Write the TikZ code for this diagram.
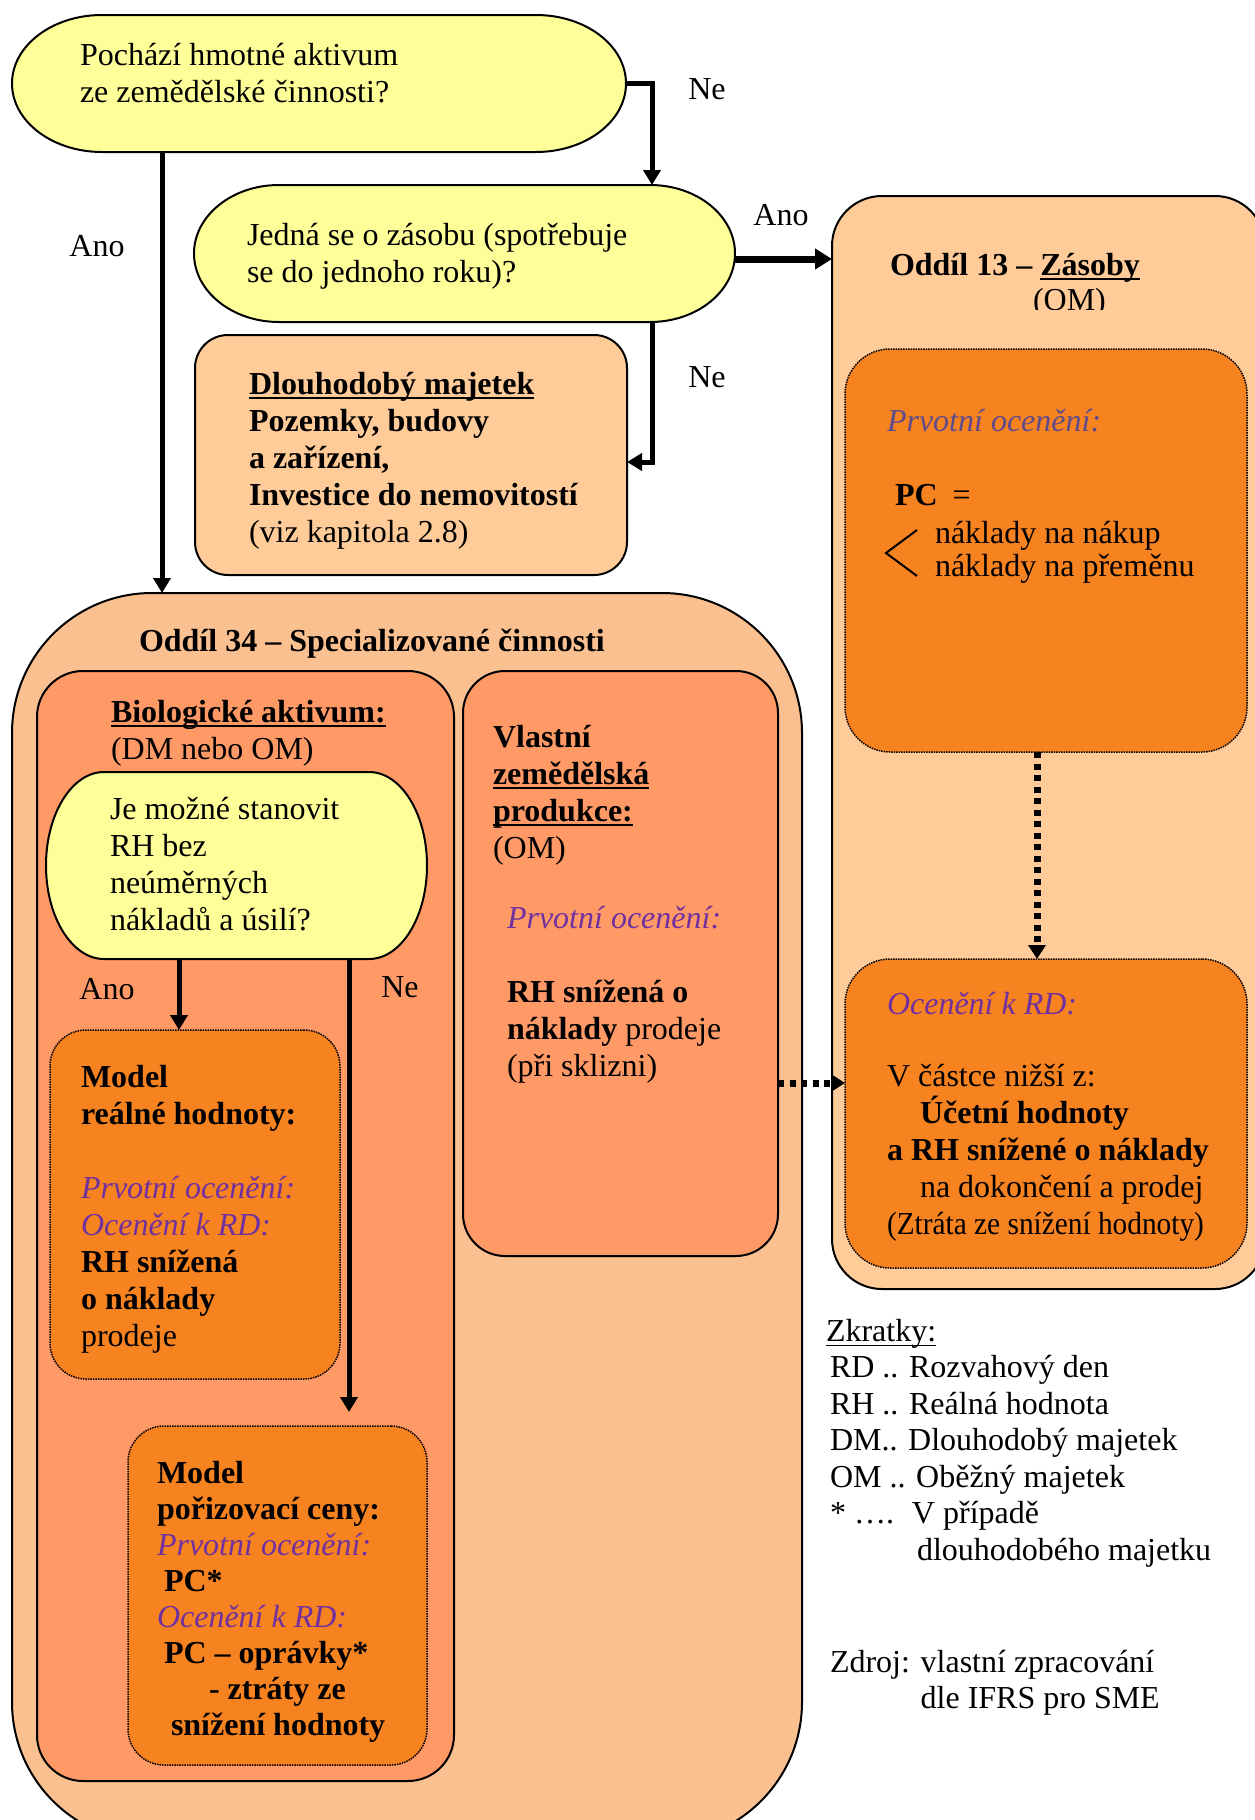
\documentclass[tikz,border=0pt]{standalone}
\usepackage{fontspec}
\setmainfont{Liberation Serif}
\usetikzlibrary{arrows.meta,calc}

\definecolor{cYellow}{HTML}{FFFF99}
\definecolor{cPeach}{HTML}{FFCC99}
\definecolor{cTan}{HTML}{FAC090}
\definecolor{cSalmon}{HTML}{FF9966}
\definecolor{cOrange}{HTML}{F68220}
\definecolor{cPurple}{HTML}{7030A0}
\definecolor{cGreyPurple}{HTML}{5F4B8B}

% underline drawn as a rule just below the baseline
\newcommand\uln[2][2.5pt]{\setbox0\hbox{#2}\rlap{\rule[-5pt]{\wd0}{#1}}\box0}
% fixed-height strut opening each text block
\newcommand\ls{\rule{0pt}{30pt}}
\newcommand\pur[1]{\textcolor{cPurple}{\itshape #1}}

% stadium outline around an (invisible) named node: name, end radius, fill
\newcommand\stadium[3]{%
  \path[draw=black, line width=2pt, fill=#3]
    let \p1=(#1.north east), \p2=(#1.south west), \n1={(\y1-\y2)/2} in
    (\x1-#2pt,\y1) arc[start angle=90,end angle=-90,x radius=#2pt,y radius=\n1]
    -- (\x2+#2pt,\y2) arc[start angle=270,end angle=90,x radius=#2pt,y radius=\n1]
    -- cycle;}

\tikzset{
  area/.style={inner sep=0pt, outer sep=0pt},
  frame/.style={area, draw=black, line width=2pt},
  dotbox/.style={area, draw=black, line width=1.5pt, densely dotted, fill=cOrange, rounded corners=#1},
  txt/.style={inner sep=0pt, outer sep=0pt, anchor=north west, align=left},
  lbl/.style={inner sep=0pt},
  arr/.style={line width=5pt, -{Triangle[length=15pt,width=17pt]}},
  bigarr/.style={line width=7pt, -{Triangle[length=17pt,width=20pt]}},
  dotarr/.style={line width=7pt, dash pattern=on 6pt off 5.5pt, -{Triangle[length=14pt,width=17pt]}},
}

\begin{document}
\begin{tikzpicture}[x=1pt,y=-1pt, every node/.style={font=\fontsize{32}{37}\selectfont}]
\clip (0,0) rectangle (1255,1820);

% ---- containers ----
\node[frame, fill=cTan, rounded corners=140pt, minimum width=790pt, minimum height=1249pt] (o34) at (407,1217.5) {};
\node[frame, fill=cSalmon, rounded corners=46pt, minimum width=417pt, minimum height=1110pt] (bio) at (245.5,1226) {};
\node[frame, fill=cSalmon, rounded corners=42pt, minimum width=315pt, minimum height=585pt] (vz) at (620.5,963.5) {};
\node[dotbox=36pt, minimum width=290pt, minimum height=349pt] (rh) at (195,1204.5) {};
\node[dotbox=36pt, minimum width=299pt, minimum height=339pt] (pc) at (277.5,1595.5) {};
\node[frame, fill=cPeach, rounded corners=33pt, minimum width=432pt, minimum height=240pt] (dm) at (411,455) {};
\node[frame, fill=cPeach, rounded corners=50pt, minimum width=433pt, minimum height=1093pt] (o13) at (1048.5,742.5) {};
\node[dotbox=45pt, minimum width=402pt, minimum height=403pt] (pi) at (1046,550.5) {};
\node[dotbox=45pt, minimum width=402pt, minimum height=309pt] (rd) at (1046,1113.5) {};

% ---- decisions ----
\node[area, minimum width=614pt, minimum height=137pt] (q1) at (319,83.5) {};
\stadium{q1}{90}{cYellow}
\node[area, minimum width=541pt, minimum height=137pt] (q2) at (464.5,253.5) {};
\stadium{q2}{85}{cYellow}
\node[area, minimum width=381pt, minimum height=187pt] (q3) at (236.5,865.5) {};
\stadium{q3}{58}{cYellow}

% ---- connectors ----
\draw[arr] (q1.east) -| ([xshift=187.5pt]q2.north);
\draw[arr] ([xshift=187.5pt]q2.south) |- ([yshift=-7pt]dm.east);
\draw[bigarr] ([yshift=-5.5pt]q2.east) -- ([yshift=-5.5pt]q2.east -| o13.west);
\draw[arr] ([xshift=-157pt]q1.south) -- ([xshift=-157pt]q1.south |- o34.north);
\draw[arr] ([xshift=-57.5pt]q3.south) -- ([xshift=-57.5pt]q3.south |- rh.north);
\draw[arr, shorten >=14pt] ([xshift=112.5pt]q3.south) -- ([xshift=112.5pt]q3.south |- pc.north);
\draw[dotarr] ([xshift=-9pt]pi.south) -- ([xshift=-9pt]rd.north);
\draw[dotarr] ([yshift=-119.5pt]vz.east) -- ([yshift=-119.5pt]vz.east -| rd.west);

% ---- connector labels ----
\node[lbl] (lNe1) at (707,89) {Ne};
\node[lbl] (lAno1) at (781,215) {Ano};
\node[lbl] (lAno2) at (97,246) {Ano};
\node[lbl] (lNe2) at (707,377) {Ne};
\node[lbl] (lAno3) at (107,989) {Ano};
\node[lbl] (lNe3) at (400,987) {Ne};

% ---- texts ----
\node[txt] (tq1) at (80,35) {\ls Pochází hmotné aktivum\\ze zemědělské činnosti?};
\node[txt] (tq2) at (247,215) {\ls Jedná se o zásobu (spotřebuje\\se do jednoho roku)?};
\node[txt] (tdm) at (249,364) {\ls\textbf{\uln{Dlouhodobý majetek}}\\\textbf{Pozemky, budovy}\\\textbf{a zařízení,}\\\textbf{Investice do nemovitostí}\\(viz kapitola 2.8)};

\node[txt] (to34) at (139,621) {\ls\textbf{Oddíl 34 – Specializované činnosti}};
\node[txt] (tbio) at (111,692) {\ls\textbf{\uln{Biologické aktivum:}}\\(DM nebo OM)};
\node[txt] (tq3) at (110,789) {\ls Je možné stanovit\\RH bez\\neúměrných\\nákladů a úsilí?};
\node[txt] (trh) at (81,1057) {\ls\textbf{Model}\\\textbf{reálné hodnoty:}\\[37pt]\pur{Prvotní ocenění:}\\\pur{Ocenění k RD:}\\\textbf{RH snížená}\\\textbf{o náklady}\\prodeje};
\node[txt, font=\fontsize{32}{36}\selectfont] (tpc) at (157,1453) {\ls\textbf{Model}\\\textbf{pořizovací ceny:}\\\pur{Prvotní ocenění:}\\\hspace{7pt}\textbf{PC*}\\\pur{Ocenění k RD:}\\\hspace{7pt}\textbf{PC – oprávky*}\\\hspace{52pt}\textbf{- ztráty ze}\\\hspace{14pt}\textbf{snížení hodnoty}};
\node[txt] (tvz) at (493,717) {\ls\textbf{Vlastní}\\\textbf{\uln{zemědělská}}\\\textbf{\uln{produkce:}}\\(OM)};
\node[txt] (tvz2) at (507,898) {\ls\pur{Prvotní ocenění:}\\[37pt]\textbf{RH snížená o}\\\textbf{náklady} prodeje\\(při sklizni)};

\node[txt] (to13) at (890,245) {\ls\textbf{Oddíl 13 – \uln{Zásoby}}};
\begin{scope}
  \clip (1000,270) rectangle (1150,309);
  \node[txt] (to13b) at (1033,280) {\ls(OM)};
\end{scope}
\node[txt] (tpi) at (887,401) {\ls\textcolor{cGreyPurple}{\itshape Prvotní ocenění:}};
\node[txt] (tpc2) at (895,475) {\ls\textbf{PC}\hspace{15pt}=};
\node[txt, font=\fontsize{32}{33}\selectfont] (tcost) at (935,513) {\ls náklady na nákup\\náklady na přeměnu};
\draw[line width=2pt] (917,530) -- (886,553) -- (917,576);
\node[txt] (trd) at (887,984) {\ls\pur{Ocenění k RD:}\\[35pt]V částce nižší z:\\\hspace{33pt}\textbf{Účetní hodnoty}\\\textbf{a RH snížené o náklady}\\\hspace{33pt}na dokončení a prodej\\\scalebox{0.917}[1]{(Ztráta ze snížení hodnoty)}};

% ---- legend ----
\node[txt, font=\fontsize{32}{36.5}\selectfont] (tleg) at (826,1311) {\ls\uln[1.5pt]{Zkratky:}\\\hspace{4pt}RD .. Rozvahový den\\\hspace{4pt}RH .. Reálná hodnota\\\hspace{4pt}DM.. Dlouhodobý majetek\\\hspace{4pt}OM .. Oběžný majetek\\\hspace{4pt}\makebox[82pt][l]{* ….}V případě\\\hspace{91pt}dlouhodobého majetku};
\node[txt, font=\fontsize{32}{36}\selectfont] (tsrc) at (830,1642) {\ls Zdroj: vlastní zpracování\\\phantom{Zdroj: }dle IFRS pro SME};
\end{tikzpicture}
\end{document}
